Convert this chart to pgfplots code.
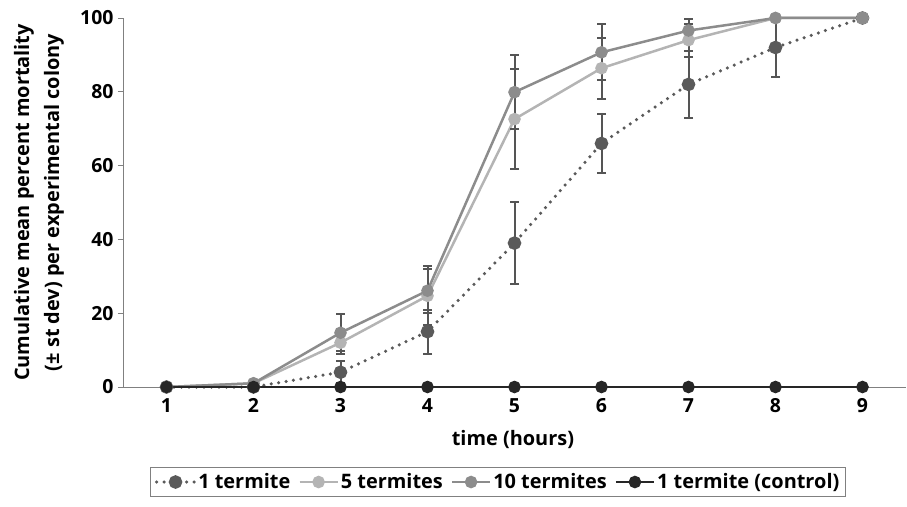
\documentclass[border=0pt]{standalone}
\usepackage{pgfplots}
\pgfplotsset{compat=1.18}
\usepackage{fontspec}
\setmainfont{Open Sans}

\definecolor{one}{HTML}{5A5A5A}
\definecolor{five}{HTML}{B4B4B4}
\definecolor{ten}{HTML}{8C8C8C}
\definecolor{ctrl}{HTML}{262626}
\definecolor{bar}{HTML}{555555}

% x  mean  sd
\pgfplotstableread{
x y e
1 0 0
2 0 0
3 4 3
4 15 6
5 39 11
6 66 8
7 82 9
8 92 8
9 100 0
}\onetermite
\pgfplotstableread{
x y e
1 0 0
2 1 0
3 12 3
4 24.7 8
5 72.6 13.5
6 86.4 8.3
7 94 4.5
8 100 0
9 100 0
}\fivetermites
\pgfplotstableread{
x y e
1 0 0
2 1 0
3 14.7 5
4 26.1 6
5 79.9 10
6 90.7 7.6
7 96.6 3
8 100 0
9 100 0
}\tentermites
\pgfplotstableread{
x y
1 0
2 0
3 0
4 0
5 0
6 0
7 0
8 0
9 0
}\control

\begin{document}
\begin{tikzpicture}
\begin{axis}[
 scale only axis,width=783bp,height=369bp,
 xmin=0.5,xmax=9.5,ymin=0,ymax=100,
 axis lines=left,axis line style={-,draw=gray,line width=0.8bp},
 xtick={1,...,9},ytick={0,20,...,100},
 x tick style={draw=none},
 y tick style={draw=gray,line width=0.8bp},
 tick align=outside,major tick length=5bp,
 tick label style={font=\bfseries\fontsize{19.5}{22}\selectfont},
 /pgf/number format/assume math mode=true,
 xticklabel style={yshift=-3bp},
 yticklabel style={xshift=-1bp},
 label style={font=\bfseries\fontsize{20}{30}\selectfont},
 xlabel={time (hours)},
 xlabel style={at={(axis description cs:0.498,0)},anchor=center,yshift=-53bp},
 ylabel={Cumulative mean percent mortality\\(± st dev) per experimental colony},
 ylabel style={at={(axis description cs:-0.1073,0.5)},anchor=center,align=center},
 legend columns=4,
 legend style={at={(0.479,-0.2575)},anchor=center,draw=gray,line width=0.6bp,
   font=\bfseries\fontsize{20}{22}\selectfont,inner sep=4bp,
   /tikz/every even column/.append style={column sep=6bp}},
 legend image code/.code={
   \draw[#1] (0bp,0bp) -- (38bp,0bp);
   \draw[#1,solid] plot coordinates {(19bp,0bp)};},
 clip=false,
 error bars/y dir=both,error bars/y explicit,
 error bars/error bar style={line width=2bp,draw=bar,solid},
 error bars/error mark options={rotate=90,mark size=4.5bp,line width=2bp,draw=bar},
]
\addplot[one,line width=3.5bp,line cap=round,dash pattern=on 0pt off 7.5bp,
  mark=*,mark size=5bp,mark options={solid,fill=one,draw=one}]
  table[x=x,y=y,y error=e] {\onetermite};
\addplot[five,line width=2.5bp,mark=*,mark size=5bp,mark options={fill=five}]
  table[x=x,y=y,y error=e] {\fivetermites};
\addplot[ten,line width=2.5bp,mark=*,mark size=5bp,mark options={fill=ten}]
  table[x=x,y=y,y error=e] {\tentermites};
\addplot[ctrl,line width=2.5bp,mark=*,mark size=5bp,mark options={fill=ctrl}]
  table[x=x,y=y] {\control};
\legend{1 termite,5 termites,10 termites,1 termite (control)}
\coordinate (sw) at (rel axis cs:0,0);
\coordinate (ne) at (rel axis cs:1,1);
\end{axis}
\pgfresetboundingbox
\path ([xshift=-123bp,yshift=-120bp]sw) rectangle ([xshift=1bp,yshift=18bp]ne);
\end{tikzpicture}
\end{document}
